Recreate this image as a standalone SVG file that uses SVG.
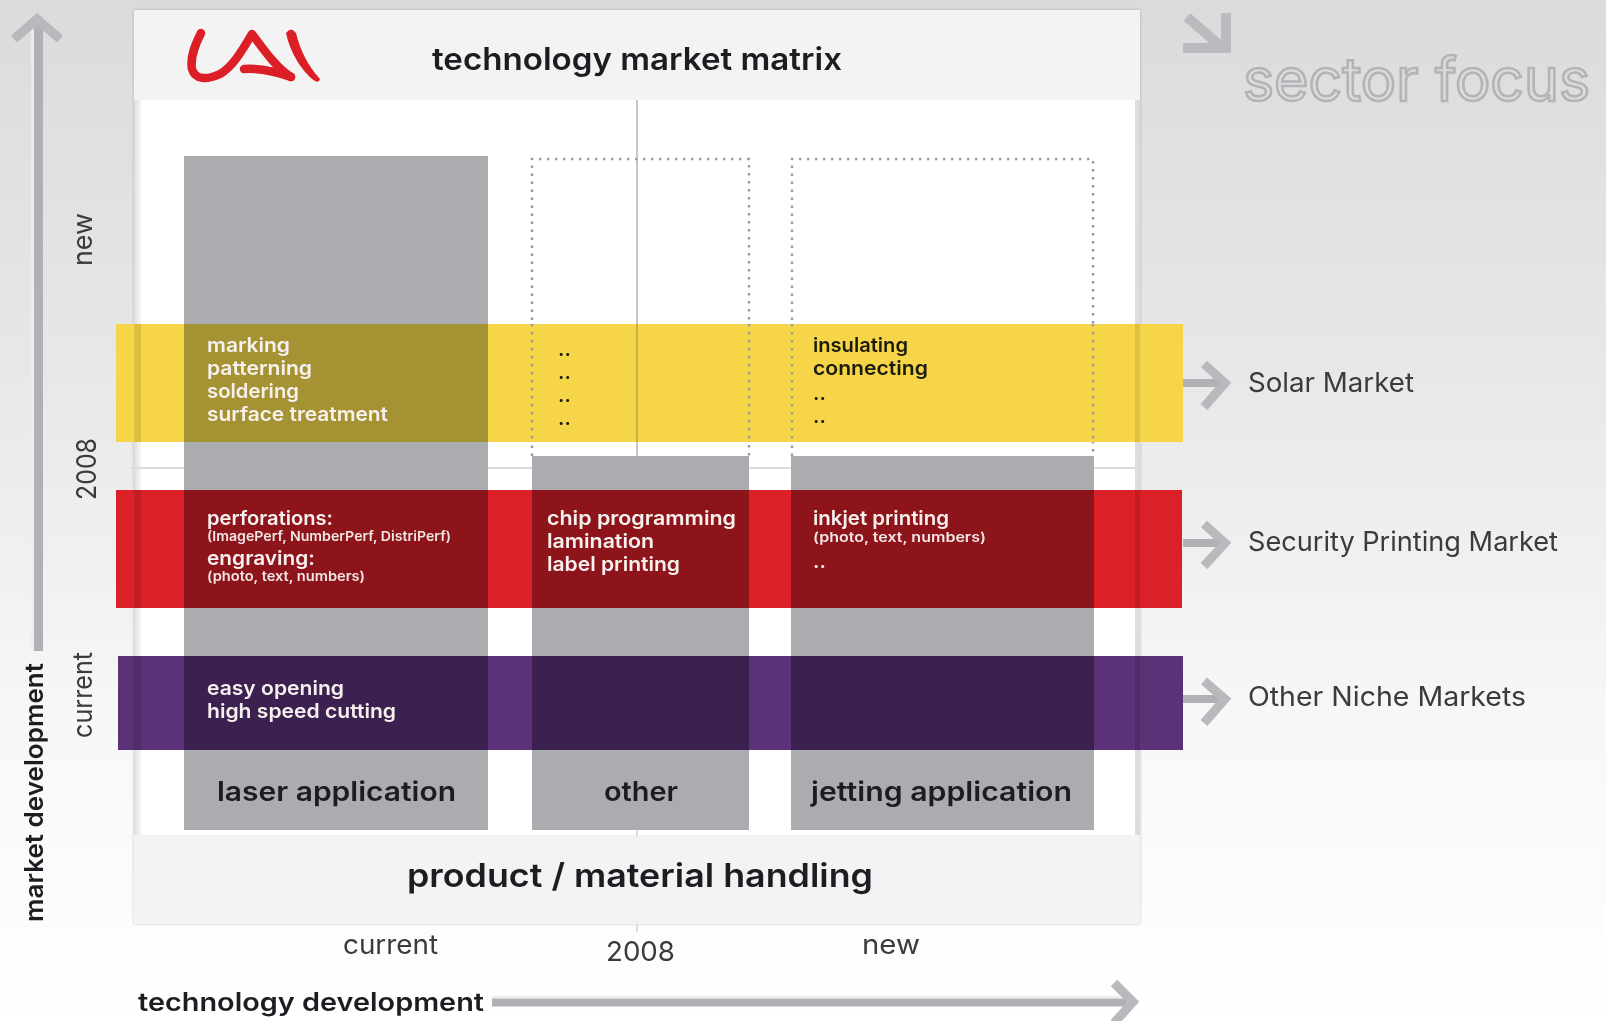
<svg xmlns="http://www.w3.org/2000/svg" width="1606" height="1021" viewBox="0 0 1606 1021">
<defs>
<linearGradient id="bg" x1="0" y1="0" x2="0" y2="1"><stop offset="0" stop-color="#dbdbdc"/><stop offset="0.35" stop-color="#e7e7e8"/><stop offset="0.7" stop-color="#f7f7f7"/><stop offset="1" stop-color="#ffffff"/></linearGradient>
<linearGradient id="leftedge" x1="0" y1="0" x2="1" y2="0"><stop offset="0" stop-color="#dcdddE"/><stop offset="1" stop-color="#f6f6f6"/></linearGradient>
<filter id="soft" x="-5%" y="-20%" width="110%" height="140%"><feGaussianBlur stdDeviation="0.65"/></filter>
<filter id="shadow" x="-5%" y="-5%" width="110%" height="110%"><feGaussianBlur stdDeviation="1.5"/></filter>
</defs>
<style>
text{font-family:"Inter","Liberation Sans",sans-serif;filter:url(#soft)}
.b{font-weight:600}
.dk{fill:#1e1e20}
.ax{fill:#3a3a3c;font-size:27px;font-weight:400}
.wt{fill:#f6f1ee;font-size:20px;font-weight:600}
.sm{fill:#f0e6e4;font-size:13.5px;font-weight:600}
.blk{fill:#1e1b10;font-size:20px;font-weight:600}
.col{fill:#abacaf}
.dot{fill:none;stroke:#9a9ba0;stroke-width:2.4;stroke-dasharray:2.4 5.6}
.arr{fill:none;stroke:#b0b1b5;stroke-width:8}
.hl{fill:none;stroke:#eeeeef;stroke-width:2.5}
.arrh{fill:none;stroke:#b8b9bd;stroke-width:9;stroke-linejoin:miter}
.edge{fill:#000;opacity:.1}
</style>
<rect width="1606" height="1021" fill="url(#bg)"/>
<g id="frame">
<rect x="134" y="10" width="1006" height="914" fill="#000" opacity=".22" filter="url(#shadow)"/>
<rect x="134" y="10" width="1006" height="914" fill="#f3f3f3"/>
<rect x="134" y="100" width="7" height="735" fill="url(#leftedge)"/>
<rect x="1135" y="100" width="5" height="735" fill="#dcdddE"/>
<rect x="141" y="100" width="994" height="735" fill="#ffffff"/>
<rect x="636" y="100" width="2" height="356" fill="#c6c7ca"/>
<rect x="130" y="467" width="1005" height="2" fill="#dcdcde"/>
<rect x="636" y="830" width="2" height="6" fill="#dcdcde"/>
<rect x="636" y="924" width="2" height="8" fill="#dcdcde"/>
</g>
<g id="logo">
<g fill="none" stroke="#dc1f26" stroke-width="8.500" stroke-linecap="round" stroke-linejoin="round">
<path d="M201 33C194 47 190 58 192 69C195 80 207 80 220 74C234 66 244 47 252 34C262 47 276 68 291 77"/>
<path d="M244 69C260 68 277 72 291 77"/>
</g>
<path d="M286 33Q291 26 296 33C300 50 308 66 320 79Q319 83 315 81C302 72 290 52 286 33Z" fill="#dc1f26"/>
</g>
<g id="title"><text x="432" y="70" class="b dk" font-size="31" textLength="410" lengthAdjust="spacingAndGlyphs">technology market matrix</text></g>
<g id="sector-focus">
<path d="M1187 17L1224 49M1226 13V53M1183 48H1230" fill="none" stroke="#babbbe" stroke-width="10"/>
<text x="1243" y="101" font-size="60" font-weight="400" fill="#dcdcdd" stroke="#b3b4b7" stroke-width="2.600" textLength="347" lengthAdjust="spacingAndGlyphs">sector focus</text>
</g>
<g id="column-laser"><rect class="col" x="184" y="156" width="304" height="674"/></g>
<g id="column-other"><rect class="col" x="532" y="456" width="217" height="374"/><path class="dot" d="M532 456V159H749V456"/></g>
<g id="column-jetting"><rect class="col" x="791" y="456" width="303" height="374"/><path class="dot" d="M792 456V159H1093V456"/></g>
<g id="band-solar">
<rect x="116" y="324" width="1067" height="118" fill="#f6d648"/>
<rect x="184" y="324" width="304" height="118" fill="#a59232"/>
<rect x="636" y="324" width="2" height="118" fill="#c6b040"/>
<path d="M532 324V442M749 324V442M792 324V442M1093 324V442" class="dot"/>
<rect class="edge" x="134" y="324" width="7" height="118"/><rect class="edge" x="1135" y="324" width="5" height="118"/>
</g>
<g id="band-security">
<rect x="116" y="490" width="1066" height="118" fill="#dc2027"/>
<rect x="184" y="490" width="304" height="118" fill="#8e141b"/>
<rect x="532" y="490" width="217" height="118" fill="#8e141b"/>
<rect x="791" y="490" width="303" height="118" fill="#8e141b"/>
<rect class="edge" x="134" y="490" width="7" height="118"/><rect class="edge" x="1135" y="490" width="5" height="118"/>
</g>
<g id="band-niche">
<rect x="118" y="656" width="1065" height="94" fill="#5b3177"/>
<rect x="184" y="656" width="304" height="94" fill="#3c2050"/>
<rect x="532" y="656" width="217" height="94" fill="#3c2050"/>
<rect x="791" y="656" width="303" height="94" fill="#3c2050"/>
<rect class="edge" x="134" y="656" width="7" height="94"/><rect class="edge" x="1135" y="656" width="5" height="94"/>
</g>
<g id="labels-solar">
<text class="wt" x="207" y="352" textLength="83" lengthAdjust="spacingAndGlyphs">marking</text>
<text class="wt" x="207" y="375" textLength="105" lengthAdjust="spacingAndGlyphs">patterning</text>
<text class="wt" x="207" y="398" textLength="92" lengthAdjust="spacingAndGlyphs">soldering</text>
<text class="wt" x="207" y="421" textLength="181" lengthAdjust="spacingAndGlyphs">surface treatment</text>
<text class="blk" x="558" y="356">..</text><text class="blk" x="558" y="379">..</text><text class="blk" x="558" y="402">..</text><text class="blk" x="558" y="425">..</text>
<text class="blk" x="813" y="352" textLength="95" lengthAdjust="spacingAndGlyphs">insulating</text>
<text class="blk" x="813" y="375" textLength="115" lengthAdjust="spacingAndGlyphs">connecting</text>
<text class="blk" x="813" y="400">..</text><text class="blk" x="813" y="423">..</text>
</g>
<g id="labels-security">
<text class="wt" x="207" y="525" textLength="126" lengthAdjust="spacingAndGlyphs">perforations:</text>
<text class="sm" x="207" y="541" textLength="244" lengthAdjust="spacingAndGlyphs">(ImagePerf, NumberPerf, DistriPerf)</text>
<text class="wt" x="207" y="565" textLength="108" lengthAdjust="spacingAndGlyphs">engraving:</text>
<text class="sm" x="207" y="581" textLength="158" lengthAdjust="spacingAndGlyphs">(photo, text, numbers)</text>
<text class="wt" x="547" y="525" textLength="189" lengthAdjust="spacingAndGlyphs">chip programming</text>
<text class="wt" x="547" y="548" textLength="107" lengthAdjust="spacingAndGlyphs">lamination</text>
<text class="wt" x="547" y="571" textLength="133" lengthAdjust="spacingAndGlyphs">label printing</text>
<text class="wt" x="813" y="525" textLength="136" lengthAdjust="spacingAndGlyphs">inkjet printing</text>
<text class="sm" x="813" y="542" textLength="173" lengthAdjust="spacingAndGlyphs">(photo, text, numbers)</text>
<text class="wt" x="813" y="568">..</text>
</g>
<g id="labels-niche">
<text class="wt" x="207" y="695" textLength="137" lengthAdjust="spacingAndGlyphs">easy opening</text>
<text class="wt" x="207" y="718" textLength="189" lengthAdjust="spacingAndGlyphs">high speed cutting</text>
</g>
<g id="column-labels">
<text class="b" fill="#1e1e20" x="217" y="801" font-size="27" textLength="239" lengthAdjust="spacingAndGlyphs">laser application</text>
<text class="b" fill="#1e1e20" x="604" y="801" font-size="27" textLength="74" lengthAdjust="spacingAndGlyphs">other</text>
<text class="b" fill="#1e1e20" x="811" y="801" font-size="27" textLength="261" lengthAdjust="spacingAndGlyphs">jetting application</text>
</g>
<g id="footer"><text class="b dk" x="407" y="887" font-size="33" textLength="466" lengthAdjust="spacingAndGlyphs">product / material handling</text></g>
<g id="axis-labels">
<text class="ax" x="343" y="954" textLength="95" lengthAdjust="spacingAndGlyphs">current</text>
<text class="ax" x="606" y="961" textLength="69" lengthAdjust="spacingAndGlyphs">2008</text>
<text class="ax" x="862" y="954" textLength="58" lengthAdjust="spacingAndGlyphs">new</text>
<text class="b dk" x="138" y="1011" font-size="25" textLength="346" lengthAdjust="spacingAndGlyphs">technology development</text>
<text class="b dk" transform="translate(43 922) rotate(-90)" font-size="25" textLength="259" lengthAdjust="spacingAndGlyphs">market development</text>
<text class="ax" transform="translate(92 738) rotate(-90)" textLength="86" lengthAdjust="spacingAndGlyphs">current</text>
<text class="ax" transform="translate(96 500) rotate(-90)" textLength="62" lengthAdjust="spacingAndGlyphs">2008</text>
<text class="ax" transform="translate(92 266) rotate(-90)" textLength="53" lengthAdjust="spacingAndGlyphs">new</text>
<text class="ax" x="1248" y="392" textLength="166" lengthAdjust="spacingAndGlyphs">Solar Market</text>
<text class="ax" x="1248" y="551" textLength="310" lengthAdjust="spacingAndGlyphs">Security Printing Market</text>
<text class="ax" x="1248" y="706" textLength="278" lengthAdjust="spacingAndGlyphs">Other Niche Markets</text>
</g>
<g id="connectors">
<path d="M32.500 30V651" class="hl"/><path d="M38.500 22V651" class="arr" style="stroke-width:9"/><path d="M14 39L37 19L60 39" class="arrh"/>
<path d="M492 997H1120" class="hl"/><path d="M492 1002.500H1130" class="arr"/><path d="M1114 983L1133 1002L1114 1023" class="arrh"/>
<path d="M1183 383H1224" class="arr"/><path d="M1204 364L1225 383L1204 407" class="arrh"/>
<path d="M1183 543H1224" class="arr"/><path d="M1204 524L1225 543L1204 566" class="arrh"/>
<path d="M1183 699H1224" class="arr"/><path d="M1204 681L1225 699L1204 723" class="arrh"/>
</g>
</svg>
